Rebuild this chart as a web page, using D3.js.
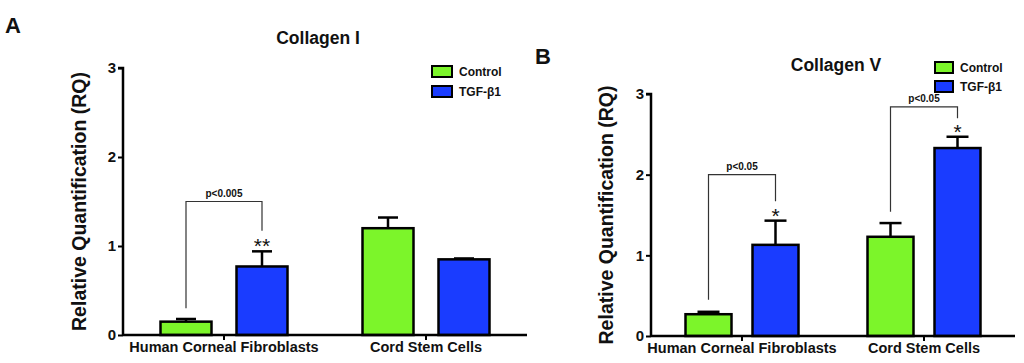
<!DOCTYPE html>
<html>
<head>
<meta charset="utf-8">
<script src="https://cdn.jsdelivr.net/npm/d3@7"></script>
<style>
  body { margin: 0; background: #fff; }
  text { font-family: "Liberation Sans", Arial, sans-serif; font-weight: bold; fill: #111; }
</style>
</head>
<body>
<div id="chart"></div>
<script>
// data
var groups = ["Human Corneal Fibroblasts", "Cord Stem Cells"];
var series = ["Control", "TGF-\u03B21"];
var colors = ["#7cf52a", "#1a3cff"];
var yTicks = [0, 1, 2, 3];

// Collagen I
var colIControl = [0.15, 1.20];
var colITgf = [0.77, 0.85];
var colIControlErr = [0.18, 1.32];
var colITgfErr = [0.94, 0.86];

// Collagen V
var colVControl = [0.27, 1.23];
var colVTgf = [1.13, 2.33];
var colVControlErr = [0.30, 1.40];
var colVTgfErr = [1.43, 2.47];

// significance brackets: group index, bracket top, left foot, right foot, label, stars
var colIBrackets = [{ g: 0, top: 1.50, left: 0.30, right: 1.17, label: "p<0.005", stars: "**" }];
var colVBrackets = [
  { g: 0, top: 2.00, left: 0.45, right: 1.67, label: "p<0.05", stars: "*" },
  { g: 1, top: 2.84, left: 1.54, right: 2.70, label: "p<0.05", stars: "*" }
];

var svg = d3.select("#chart").append("svg")
  .attr("width", 1024)
  .attr("height", 363);

function drawPanel(p) {
  var g = svg.append("g");

  var y = d3.scaleLinear().domain([0, 3]).range([p.y0, p.y3]);
  var x = d3.scaleBand().domain(groups).range([p.left, p.right]).padding(0);
  var half = p.barW + p.gap / 2;
  var xs = d3.scaleBand().domain(series)
    .range([x.bandwidth() / 2 - half, x.bandwidth() / 2 + half])
    .paddingInner(p.gap / (p.barW + p.gap));

  var rows = [];
  groups.forEach(function (grp, i) {
    rows.push({ grp: grp, s: 0, v: p.control[i], e: p.controlErr[i] });
    rows.push({ grp: grp, s: 1, v: p.tgf[i], e: p.tgfErr[i] });
  });
  function cx(d) { return x(d.grp) + xs(series[d.s]) + xs.bandwidth() / 2; }

  // error bars (upper only)
  var eb = g.selectAll(".err").data(rows).enter().append("g");
  eb.append("line")
    .attr("x1", cx).attr("x2", cx)
    .attr("y1", function (d) { return y(d.v); })
    .attr("y2", function (d) { return y(d.e); })
    .attr("stroke", "#000").attr("stroke-width", 2.5);
  eb.append("line")
    .attr("x1", function (d) { return cx(d) - p.cap / 2; })
    .attr("x2", function (d) { return cx(d) + p.cap / 2; })
    .attr("y1", function (d) { return y(d.e); })
    .attr("y2", function (d) { return y(d.e); })
    .attr("stroke", "#000").attr("stroke-width", 2.5);

  // bars
  g.selectAll(".bar").data(rows).enter().append("rect")
    .attr("x", function (d) { return x(d.grp) + xs(series[d.s]); })
    .attr("width", xs.bandwidth())
    .attr("y", function (d) { return y(d.v); })
    .attr("height", function (d) { return y(0) - y(d.v); })
    .attr("fill", function (d) { return colors[d.s]; })
    .attr("stroke", "#000").attr("stroke-width", 2.5);

  // y axis
  var ya = g.append("g")
    .attr("transform", "translate(" + p.left + ",0)")
    .call(d3.axisLeft(y).tickValues(yTicks).tickSize(5).tickPadding(2).tickFormat(d3.format("d")));
  ya.select(".domain").attr("stroke-width", 2.5).attr("d", "M-5," + y(3) + "H0V" + y(0));
  ya.selectAll(".tick line").attr("stroke-width", 2);
  ya.selectAll(".tick text").style("font-size", "15px").style("font-family", "Liberation Sans, Arial").style("font-weight", "bold").attr("fill", "#111");

  // x axis
  var xa = g.append("g")
    .attr("transform", "translate(0," + p.y0 + ")")
    .call(d3.axisBottom(x).tickSize(5).tickPadding(4));
  xa.select(".domain").attr("stroke-width", 2.5).attr("d", "M" + p.left + ",0H" + p.right);
  xa.selectAll(".tick line").attr("stroke-width", 2);
  xa.selectAll(".tick text").style("font-size", "14.5px").style("font-family", "Liberation Sans, Arial").style("font-weight", "bold").attr("fill", "#111").attr("dy", "0.55em");

  // y label
  g.append("text")
    .attr("transform", "translate(" + p.ylabX + "," + ((y(0) + y(3)) / 2) + ") rotate(-90)")
    .attr("text-anchor", "middle")
    .attr("dy", "0.35em")
    .style("font-size", p.ylabSize + "px")
    .text("Relative Quantification (RQ)");

  // title + panel letter
  g.append("text").attr("x", p.titleX).attr("y", p.titleY)
    .attr("text-anchor", "middle").style("font-size", "17.5px").text(p.title);
  g.append("text").attr("x", p.letterX).attr("y", p.letterY)
    .style("font-size", "22px").text(p.letter);

  // brackets
  p.brackets.forEach(function (b) {
    var lx = x(groups[b.g]) + xs(series[0]) + xs.bandwidth() / 2;
    var rx = x(groups[b.g]) + xs(series[1]) + xs.bandwidth() / 2;
    var errTop = p.tgfErr[b.g];
    g.append("path")
      .attr("d", "M" + lx + "," + y(b.left) + "V" + y(b.top) + "H" + rx + "V" + y(b.right))
      .attr("fill", "none").attr("stroke", "#333").attr("stroke-width", 1.2);
    g.append("text").attr("x", (lx + rx) / 2).attr("y", y(b.top) - 5)
      .attr("text-anchor", "middle").style("font-size", "10px").text(b.label);
    g.append("text").attr("x", rx).attr("y", y(errTop) + 2)
      .attr("text-anchor", "middle").style("font-size", p.starSize + "px")
      .style("font-weight", "normal").text(b.stars);
  });

  // legend
  var lg = g.selectAll(".legend").data(series).enter().append("g")
    .attr("transform", function (d, i) { return "translate(" + p.legX + "," + (p.legY + i * p.legStep) + ")"; });
  lg.append("rect").attr("width", p.legW).attr("height", p.legH)
    .attr("fill", function (d, i) { return colors[i]; })
    .attr("stroke", "#000").attr("stroke-width", 2);
  lg.append("text").attr("x", p.legW + 7).attr("y", p.legH / 2).attr("dy", "0.35em")
    .style("font-size", "12px").text(function (d) { return d; });
}

drawPanel({
  title: "Collagen I", letter: "A",
  control: colIControl, tgf: colITgf, controlErr: colIControlErr, tgfErr: colITgfErr,
  brackets: colIBrackets,
  left: 123, right: 527, y0: 335, y3: 68,
  barW: 51, gap: 25, cap: 20,
  ylabX: 79, ylabSize: 19.5,
  titleX: 318, titleY: 44, letterX: 5, letterY: 33,
  legX: 432, legY: 66, legStep: 20, legW: 20, legH: 11,
  starSize: 21
});

drawPanel({
  title: "Collagen V", letter: "B",
  control: colVControl, tgf: colVTgf, controlErr: colVControlErr, tgfErr: colVTgfErr,
  brackets: colVBrackets,
  left: 651, right: 1015, y0: 336, y3: 94,
  barW: 46, gap: 21, cap: 22,
  ylabX: 606, ylabSize: 19.5,
  titleX: 836, titleY: 71, letterX: 535, letterY: 64,
  legX: 935, legY: 62, legStep: 19, legW: 18, legH: 11,
  starSize: 21
});
</script>
</body>
</html>
